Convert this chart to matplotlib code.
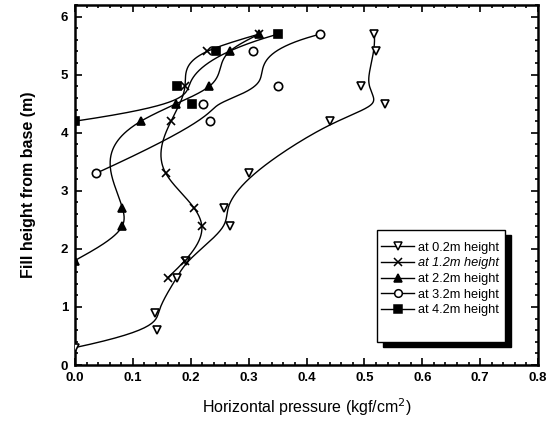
"""Horizontal pressure vs fill height."""

import matplotlib
matplotlib.use("Agg")
import matplotlib.pyplot as plt
import numpy as np
from matplotlib.patches import Rectangle
from matplotlib.ticker import MultipleLocator

plt.rcParams["font.family"] = ["Liberation Sans", "DejaVu Sans"]

labels = ["at 0.2m height", "at 1.2m height", "at 2.2m height", "at 3.2m height", "at 4.2m height"]
markers = ["v", "x", "^", "o", "s"]
filled = [False, False, True, False, True]
# curve style per series: smoothed B-spline or interpolating spline
curve_kind = ["bspline", "interp", "interp", "bspline", "bspline"]

p_02 = [0.0, 0.141, 0.138, 0.176, 0.192, 0.268, 0.257, 0.301, 0.441, 0.536, 0.494, 0.520, 0.517]
h_02 = [0.3, 0.6, 0.9, 1.5, 1.8, 2.4, 2.7, 3.3, 4.2, 4.5, 4.8, 5.4, 5.7]
p_12 = [0.160, 0.190, 0.219, 0.206, 0.157, 0.166, 0.190, 0.228, 0.318]
h_12 = [1.5, 1.8, 2.4, 2.7, 3.3, 4.2, 4.8, 5.4, 5.7]
p_22 = [0.0, 0.082, 0.082, 0.114, 0.175, 0.232, 0.267, 0.318]
h_22 = [1.8, 2.4, 2.7, 4.2, 4.5, 4.8, 5.4, 5.7]
p_32 = [0.036, 0.234, 0.222, 0.351, 0.308, 0.424]
h_32 = [3.3, 4.2, 4.5, 4.8, 5.4, 5.7]
p_42 = [0.0, 0.203, 0.176, 0.244, 0.351]
h_42 = [4.2, 4.5, 4.8, 5.4, 5.7]

series = [(p_02, h_02), (p_12, h_12), (p_22, h_22), (p_32, h_32), (p_42, h_42)]


def bspline_curve(x, y, k=3, n_eval=300):
    # clamped uniform B-spline using the data points as control points
    ctrl = np.column_stack([x, y])
    n = len(ctrl)
    knots = np.concatenate([np.zeros(k), np.arange(n - k + 1), np.full(k, n - k)]).astype(float)
    t = np.linspace(0, n - k, n_eval)
    t[-1] -= 1e-9
    basis = np.zeros((n_eval, len(knots) - 1))
    for i in range(len(knots) - 1):
        basis[:, i] = (knots[i] <= t) & (t < knots[i + 1])
    for d in range(1, k + 1):
        new = np.zeros((n_eval, len(knots) - 1 - d))
        for i in range(len(knots) - 1 - d):
            left = 0.0
            right = 0.0
            if knots[i + d] != knots[i]:
                left = (t - knots[i]) / (knots[i + d] - knots[i]) * basis[:, i]
            if knots[i + d + 1] != knots[i + 1]:
                right = (knots[i + d + 1] - t) / (knots[i + d + 1] - knots[i + 1]) * basis[:, i + 1]
            new[:, i] = left + right
        basis = new
    c = basis @ ctrl
    return c[:, 0], c[:, 1]


def interp_curve(x, y, n_eval=300):
    # natural cubic spline of pressure as a function of height
    y = np.asarray(y, float)
    x = np.asarray(x, float)
    n = len(y)
    h = np.diff(y)
    A = np.zeros((n, n))
    r = np.zeros(n)
    A[0, 0] = A[-1, -1] = 1.0
    for i in range(1, n - 1):
        A[i, i - 1] = h[i - 1]
        A[i, i] = 2 * (h[i - 1] + h[i])
        A[i, i + 1] = h[i]
        r[i] = 6 * ((x[i + 1] - x[i]) / h[i] - (x[i] - x[i - 1]) / h[i - 1])
    M = np.linalg.solve(A, r)
    yy = np.linspace(y[0], y[-1], n_eval)
    idx = np.clip(np.searchsorted(y, yy) - 1, 0, n - 2)
    a = y[idx + 1] - yy
    b = yy - y[idx]
    hi = h[idx]
    xx = (M[idx] * a ** 3 + M[idx + 1] * b ** 3) / (6 * hi) \
        + (x[idx] / hi - M[idx] * hi / 6) * a + (x[idx + 1] / hi - M[idx + 1] * hi / 6) * b
    return xx, yy


fig = plt.figure(figsize=(5.53, 4.21), dpi=100)
ax = fig.add_axes([0.1356, 0.133, 0.8374, 0.855])

for (px, hy), label, m, f, kind in zip(series, labels, markers, filled, curve_kind):
    cx, cy = bspline_curve(px, hy) if kind == "bspline" else interp_curve(px, hy)
    ax.plot(cx, cy, color="black", lw=1.0, zorder=2)
    ax.plot(px, hy, linestyle="none", marker=m, ms=6 if m != "s" else 5.5,
            mfc="black" if f else "white", mec="black", mew=1.2, zorder=3)
    ax.plot([], [], color="black", lw=1.0, marker=m, ms=5.5,
            mfc="black" if f else "white", mec="black", mew=1.1, label=label)

ax.set_xlim(0, 0.8)
ax.set_ylim(0, 6.2)
ax.xaxis.set_major_locator(MultipleLocator(0.1))
ax.xaxis.set_minor_locator(MultipleLocator(0.02))
ax.yaxis.set_major_locator(MultipleLocator(1))
ax.yaxis.set_minor_locator(MultipleLocator(0.2))
ax.tick_params(which="both", direction="in", top=True, right=True, width=1.2)
ax.tick_params(which="major", length=5, labelsize=9.5, pad=5)
ax.tick_params(which="minor", length=2.5)
for t in ax.get_xticklabels() + ax.get_yticklabels():
    t.set_fontweight("bold")
for s in ax.spines.values():
    s.set_linewidth(1.8)

ax.set_xlabel("Horizontal pressure (kgf/cm$^2$)", fontsize=11.5, labelpad=9)
ax.set_ylabel("Fill height from base (m)", fontsize=11.5, fontweight="bold", labelpad=18)

# legend box with a solid drop shadow
bx0, bx1, by0, by1 = 0.652, 0.929, 0.064, 0.375
ax.add_patch(Rectangle((bx0 + 0.013, by0 - 0.014), bx1 - bx0, by1 - by0, transform=ax.transAxes,
                       facecolor="black", edgecolor="black", zorder=4, clip_on=False))
ax.add_patch(Rectangle((bx0, by0), bx1 - bx0, by1 - by0, transform=ax.transAxes,
                       facecolor="white", edgecolor="black", lw=1.0, zorder=5, clip_on=False))
leg = ax.legend(loc="upper left", bbox_to_anchor=(0.661, 0.342), fontsize=9.2, frameon=False,
                handlelength=2.6, handletextpad=0.25, labelspacing=0.28, borderpad=0,
                borderaxespad=0)
leg.set_zorder(6)
leg.get_texts()[1].set_fontstyle("italic")

fig.savefig("out.png", dpi=100)
